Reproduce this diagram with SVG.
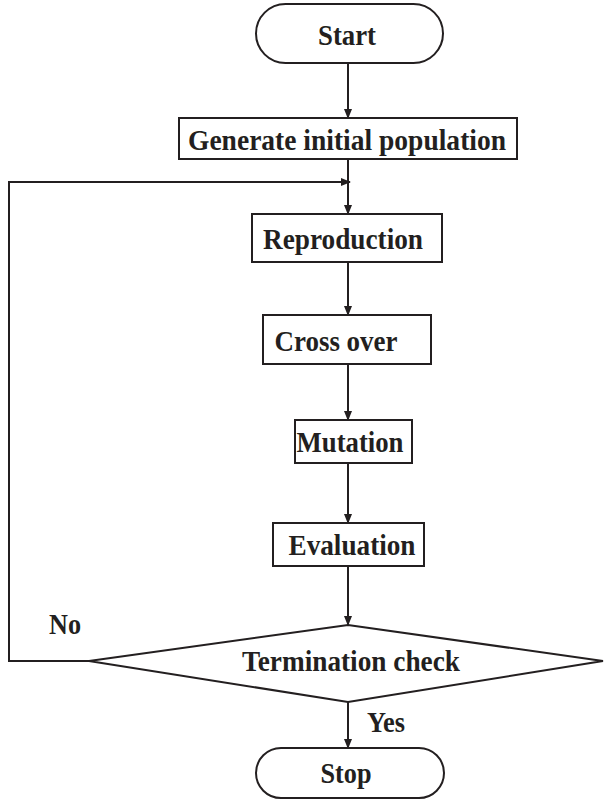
<svg xmlns="http://www.w3.org/2000/svg" width="604" height="810" viewBox="0 0 604 810">
<style>
.box{fill:#fff;stroke:#231f20;stroke-width:2}
.ln{fill:none;stroke:#231f20;stroke-width:2}
.t{font-family:"Liberation Serif","Times New Roman",serif;font-weight:bold;font-size:30px;fill:#231f20;text-anchor:middle}
</style>
<defs>
<marker id="ah" markerWidth="10" markerHeight="10" refX="9" refY="5" orient="auto" markerUnits="userSpaceOnUse">
<path d="M0,1 L10,5 L0,9 Z" fill="#231f20"/>
</marker>
</defs>
<g id="connectors">
<line class="ln" x1="348" y1="63" x2="348" y2="118" marker-end="url(#ah)"/>
<line class="ln" x1="348" y1="159" x2="348" y2="214" marker-end="url(#ah)"/>
<polyline class="ln" points="89,661 9,661 9,182 350,182" marker-end="url(#ah)"/>
<line class="ln" x1="348" y1="262" x2="348" y2="315" marker-end="url(#ah)"/>
<line class="ln" x1="348" y1="364" x2="348" y2="420" marker-end="url(#ah)"/>
<line class="ln" x1="348" y1="463" x2="348" y2="523" marker-end="url(#ah)"/>
<line class="ln" x1="348" y1="566" x2="348" y2="625" marker-end="url(#ah)"/>
<line class="ln" x1="348" y1="702" x2="348" y2="748" marker-end="url(#ah)"/>
<text class="t" x="65" y="634" textLength="32" lengthAdjust="spacingAndGlyphs">No</text>
<text class="t" x="386" y="732" textLength="38" lengthAdjust="spacingAndGlyphs">Yes</text>
</g>
<g id="start">
<rect class="box" x="256" y="4" width="187" height="59" rx="29.5"/>
<text class="t" x="347" y="45" textLength="58" lengthAdjust="spacingAndGlyphs">Start</text>
</g>
<g id="generate">
<rect class="box" x="179" y="118" width="338" height="41"/>
<text class="t" x="347" y="150" textLength="318" lengthAdjust="spacingAndGlyphs">Generate initial population</text>
</g>
<g id="reproduction">
<rect class="box" x="252" y="214" width="190" height="48"/>
<text class="t" x="343" y="249" textLength="160" lengthAdjust="spacingAndGlyphs">Reproduction</text>
</g>
<g id="crossover">
<rect class="box" x="263" y="315" width="168" height="49"/>
<text class="t" x="336" y="351" textLength="123" lengthAdjust="spacingAndGlyphs">Cross over</text>
</g>
<g id="mutation">
<rect class="box" x="295" y="420" width="117" height="43"/>
<text class="t" x="350" y="452" textLength="107" lengthAdjust="spacingAndGlyphs">Mutation</text>
</g>
<g id="evaluation">
<rect class="box" x="273" y="523" width="151" height="43"/>
<text class="t" x="352" y="555" textLength="127" lengthAdjust="spacingAndGlyphs">Evaluation</text>
</g>
<g id="termination">
<polygon class="box" points="89,661 348,625 603,661 348,702"/>
<text class="t" x="351" y="671" textLength="218" lengthAdjust="spacingAndGlyphs">Termination check</text>
</g>
<g id="stop">
<rect class="box" x="256" y="748" width="188" height="50" rx="25"/>
<text class="t" x="346" y="783" textLength="51" lengthAdjust="spacingAndGlyphs">Stop</text>
</g>
</svg>
